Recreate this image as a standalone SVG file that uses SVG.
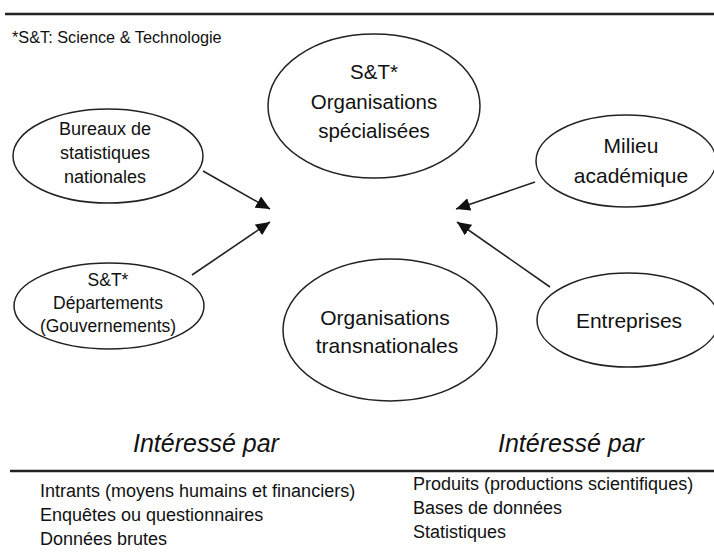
<svg xmlns="http://www.w3.org/2000/svg" width="714" height="555" viewBox="0 0 714 555">
<style>
  .n ellipse { fill: #fff; stroke: #222; stroke-width: 1.5; }
  text { font-family: "Liberation Sans", Arial, sans-serif; fill: #111; }
  .c { text-anchor: middle; }
  .rule { stroke: #222; stroke-width: 2.5; }
  .conn line { stroke: #222; stroke-width: 1.6; marker-end: url(#ah); }
</style>
<defs>
  <marker id="ah" viewBox="0 0 10 10" refX="10" refY="5" markerWidth="14" markerHeight="13" markerUnits="userSpaceOnUse" orient="auto" preserveAspectRatio="none">
    <path d="M0,0 L10,5 L0,10 Z" fill="#111"/>
  </marker>
</defs>
<rect width="714" height="555" fill="#fff"/>
<line class="rule" x1="5" y1="14" x2="714" y2="14"/>
<text x="12" y="43" font-size="16.3">*S&amp;T: Science &amp; Technologie</text>

<g id="org-specialisees" class="n">
  <ellipse cx="374" cy="106" rx="106" ry="72"/>
  <text class="c" x="374" y="79" font-size="20.5">S&amp;T*</text>
  <text class="c" x="374" y="109" font-size="20.5">Organisations</text>
  <text class="c" x="374" y="138" font-size="20.5">spécialisées</text>
</g>
<g id="bureaux" class="n">
  <ellipse cx="108" cy="156" rx="95" ry="47"/>
  <text class="c" x="105" y="135" font-size="18">Bureaux de</text>
  <text class="c" x="105" y="159" font-size="18">statistiques</text>
  <text class="c" x="105" y="183" font-size="18">nationales</text>
</g>
<g id="departements" class="n">
  <ellipse cx="109" cy="306" rx="95" ry="43"/>
  <text class="c" x="108" y="286" font-size="17.5">S&amp;T*</text>
  <text class="c" x="108" y="309" font-size="17.5">Départements</text>
  <text class="c" x="108" y="332" font-size="17.5">(Gouvernements)</text>
</g>
<g id="org-transnationales" class="n">
  <ellipse cx="390" cy="330" rx="107" ry="71"/>
  <text class="c" x="385" y="325" font-size="21">Organisations</text>
  <text class="c" x="387" y="353" font-size="21">transnationales</text>
</g>
<g id="milieu" class="n">
  <ellipse cx="626" cy="161" rx="90" ry="46"/>
  <text class="c" x="631" y="153" font-size="21">Milieu</text>
  <text class="c" x="631" y="183" font-size="21">académique</text>
</g>
<g id="entreprises" class="n">
  <ellipse cx="628" cy="320" rx="91" ry="47"/>
  <text class="c" x="629" y="328" font-size="21">Entreprises</text>
</g>

<g id="connectors" class="conn">
  <line x1="203" y1="171" x2="270" y2="209"/>
  <line x1="192" y1="275" x2="270" y2="222"/>
  <line x1="535" y1="182" x2="456" y2="209"/>
  <line x1="550" y1="287" x2="457" y2="222"/>
</g>

<text x="133" y="452" font-size="25" font-style="italic">Intéressé par</text>
<text x="498" y="452" font-size="25" font-style="italic">Intéressé par</text>
<line class="rule" x1="10" y1="471" x2="714" y2="471" stroke-width="2"/>
<text x="40" y="497" font-size="18">Intrants (moyens humains et financiers)</text>
<text x="40" y="521" font-size="18">Enquêtes ou questionnaires</text>
<text x="40" y="545" font-size="18">Données brutes</text>
<text x="413" y="490" font-size="18">Produits (productions scientifiques)</text>
<text x="413" y="514" font-size="18">Bases de données</text>
<text x="413" y="538" font-size="18">Statistiques</text>
</svg>
